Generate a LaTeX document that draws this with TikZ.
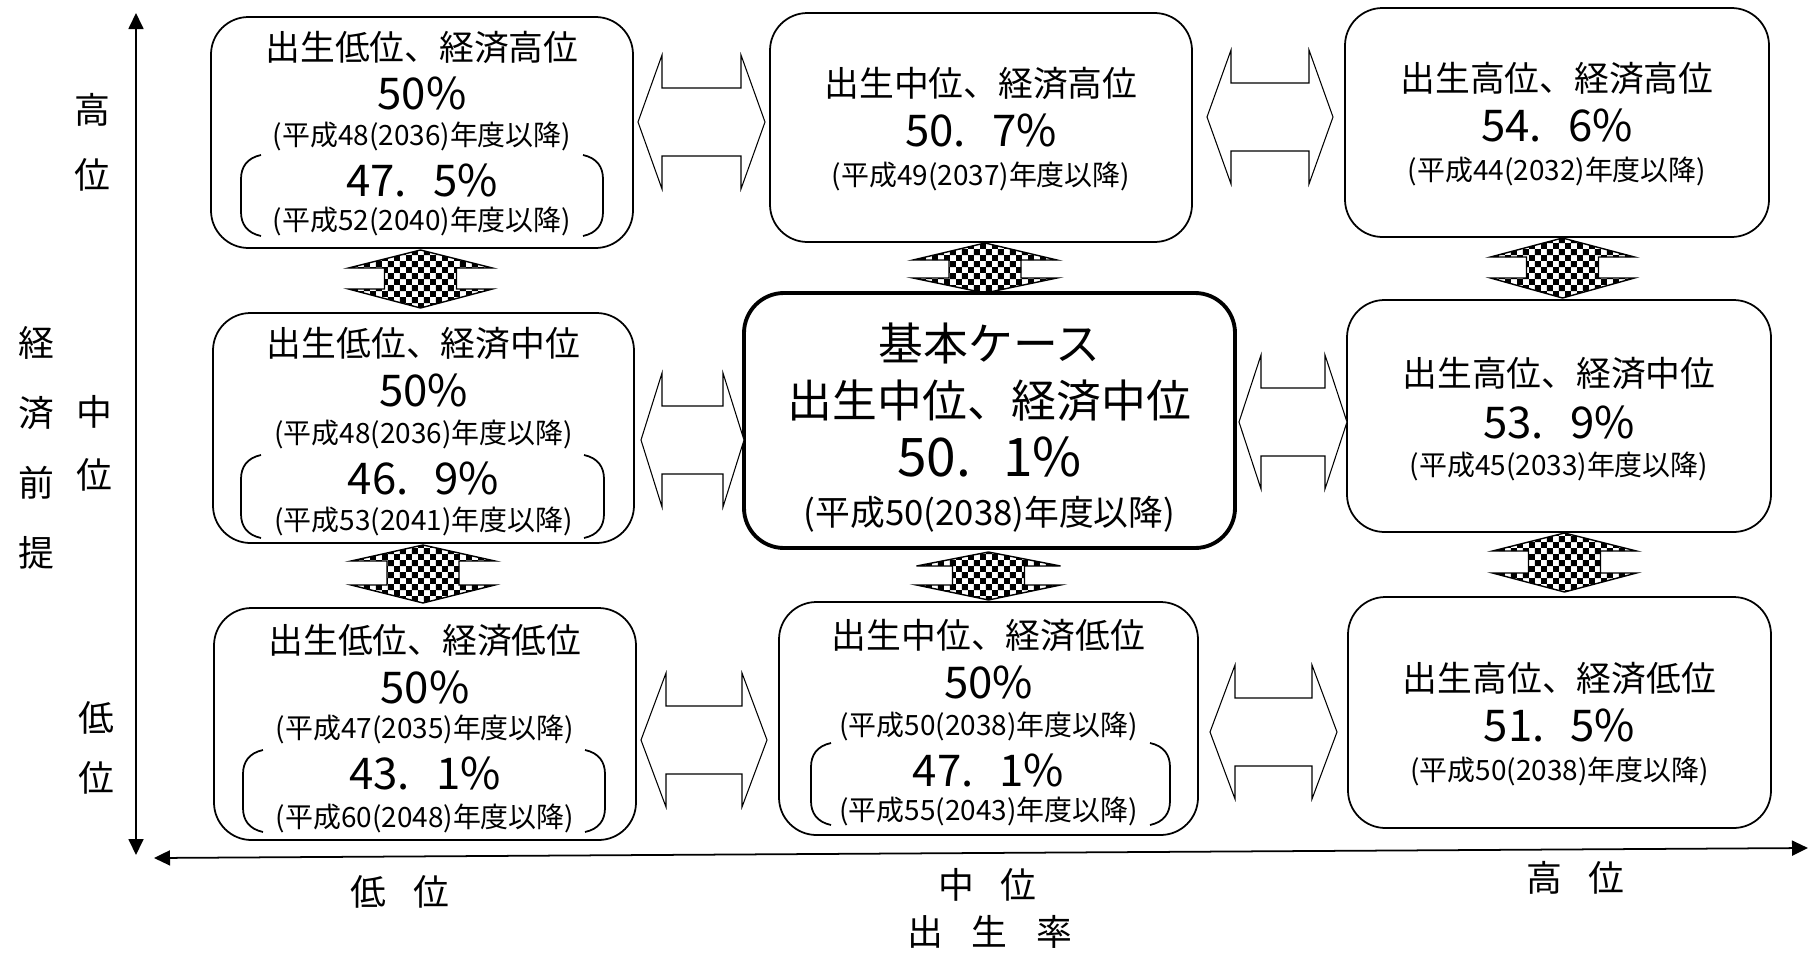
\documentclass[tikz,border=0pt]{standalone}
\usepackage{fontspec}
\newfontfamily\jp{Noto Sans CJK JP}
\usetikzlibrary{arrows.meta,patterns,fit}
\pgfdeclarepatternformonly{bigcheck}{\pgfqpoint{0pt}{0pt}}{\pgfqpoint{6.8pt}{6.8pt}}{\pgfqpoint{6.8pt}{6.8pt}}{%
  \pgfpathrectangle{\pgfqpoint{0pt}{0pt}}{\pgfqpoint{3.4pt}{3.4pt}}%
  \pgfpathrectangle{\pgfqpoint{3.4pt}{3.4pt}}{\pgfqpoint{3.4pt}{3.4pt}}%
  \pgfusepath{fill}}
\newcommand\dotgap{.\hspace{0.6em}}
\newcommand\whitearrow[4]{% left tip x, right tip x, centre y, head length
  \draw[warr] (#1,#3) -- (#1+#4,#3-67) -- (#1+#4,#3-34) -- (#2-#4,#3-34) -- (#2-#4,#3-67) -- (#2,#3)
    -- (#2-#4,#3+67) -- (#2-#4,#3+34) -- (#1+#4,#3+34) -- (#1+#4,#3+67) -- cycle;}
\newcommand\checkarrow[5]{% centre x, top tip, upper base, lower base, bottom tip
  \draw[carr] (#1,#2) -- (#1+72,#3) -- (#1+36,#3) -- (#1+36,#4) -- (#1+72,#4) -- (#1,#5)
    -- (#1-72,#4) -- (#1-36,#4) -- (#1-36,#3) -- (#1-72,#3) -- cycle;}
\newcommand\parbrk[4]{% left x, right x, top y, bottom y
  \draw[brk] (#1+20,#3) .. controls (#1+6,#3+3) and (#1,#3+12) .. (#1,#3+24) -- (#1,#4-24)
    .. controls (#1,#4-12) and (#1+6,#4-3) .. (#1+20,#4);
  \draw[brk] (#2-20,#3) .. controls (#2-6,#3+3) and (#2,#3+12) .. (#2,#3+24) -- (#2,#4-24)
    .. controls (#2,#4-12) and (#2-6,#4-3) .. (#2-20,#4);}
\begin{document}
\begin{tikzpicture}[x=0.02cm,y=-0.02cm,
  rbox/.style={draw, line width=1pt, rounded corners=0.75cm, inner sep=0pt},
  mbox/.style={draw, line width=2.2pt, rounded corners=0.8cm, inner sep=0pt},
  ttl/.style={font=\jp\fontsize{19.8pt}{22pt}\selectfont, inner sep=0pt, anchor=base},
  pct/.style={font=\jp\fontsize{24.9pt}{27pt}\selectfont, inner sep=0pt, anchor=base},
  sml/.style={font=\jp\fontsize{15.9pt}{18pt}\selectfont, inner sep=0pt, anchor=base},
  cttl/.style={font=\jp\fontsize{25.5pt}{28pt}\selectfont, inner sep=0pt, anchor=base},
  cpct/.style={font=\jp\fontsize{30.3pt}{32pt}\selectfont, inner sep=0pt, anchor=base},
  csml/.style={font=\jp\fontsize{19.8pt}{22pt}\selectfont, inner sep=0pt, anchor=base},
  axl/.style={font=\jp\fontsize{20.4pt}{22pt}\selectfont, inner sep=0pt, anchor=base},
  axis/.style={line width=1pt},
  brk/.style={line width=1pt},
  warr/.style={draw, fill=white, line width=0.6pt, line join=miter},
  carr/.style={draw, line width=0.8pt, pattern=bigcheck},
]
\fill[white] (0,0) rectangle (1809,954);
\useasboundingbox (0,0) rectangle (1809,954);

% axes
\coordinate (vt) at (136,13);
\coordinate (vb) at (136,855);
\coordinate (hl) at (154,858);
\coordinate (hr) at (1808,848);
\draw[axis, {Triangle[length=0.32cm,width=0.3cm]}-{Triangle[length=0.32cm,width=0.3cm]}] (vb) -- (vt);
\draw[axis, {Triangle[length=0.32cm,width=0.3cm]}-{Triangle[length=0.32cm,width=0.3cm]}] (hl) -- (hr);

% axis labels
\node[axl] (k1) at (36,343+13) {経};
\node[axl] (k2) at (36,413+13) {済};
\node[axl] (k3) at (36,483+13) {前};
\node[axl] (k4) at (36,553+13) {提};
\node[axl] (rh1) at (92,110+13) {高};
\node[axl] (rh2) at (92,175+13) {位};
\node[axl] (rm1) at (94,412+13) {中};
\node[axl] (rm2) at (94,475+13) {位};
\node[axl] (rl1) at (96,718+13) {低};
\node[axl] (rl2) at (96,778+13) {位};
\node[axl] (cl1) at (368,892+13) {低};
\node[axl] (cl2) at (431,892+13) {位};
\node[axl] (cm1) at (956,885+13) {中};
\node[axl] (cm2) at (1018,885+13) {位};
\node[axl] (ch1) at (1544,878+13) {高};
\node[axl] (ch2) at (1606,878+13) {位};
\node[axl] (br1) at (925,932+13) {出};
\node[axl] (br2) at (989,932+13) {生};
\node[axl] (br3) at (1054,932+13) {率};

% boxes
\node[rbox, fit={(211,17) (633,248)}] (b11) {};
\node[rbox, fit={(770,13) (1192,242)}] (b12) {};
\node[rbox, fit={(1345,8) (1769,237)}] (b13) {};
\node[rbox, fit={(213,313) (634,543)}] (b21) {};
\node[mbox, fit={(744,293) (1235,548)}] (b22) {};
\node[rbox, fit={(1347,300) (1771,532)}] (b23) {};
\node[rbox, fit={(214,608) (636,840)}] (b31) {};
\node[rbox, fit={(779,602) (1198,835)}] (b32) {};
\node[rbox, fit={(1348,597) (1771,828)}] (b33) {};

% texts B11
\node[ttl] (b11a) at (422,47+13) {出生低位、経済高位};
\node[pct] (b11b) at (422,93+16) {50\%};
\node[sml] (b11c) at (422,135+10) {(平成48(2036)年度以降)};
\node[pct] (b11d) at (422,180+16) {47\dotgap 5\%};
\node[sml] (b11e) at (422,220+10) {(平成52(2040)年度以降)};
\parbrk{241}{603}{155}{236}
% B12
\node[ttl] (b12a) at (981,83+13) {出生中位、経済高位};
\node[pct] (b12b) at (981,130+16) {50\dotgap 7\%};
\node[sml] (b12c) at (981,175+10) {(平成49(2037)年度以降)};
% B13
\node[ttl] (b13a) at (1557,78+13) {出生高位、経済高位};
\node[pct] (b13b) at (1557,125+16) {54\dotgap 6\%};
\node[sml] (b13c) at (1557,170+10) {(平成44(2032)年度以降)};
% B21
\node[ttl] (b21a) at (423.5,343+13) {出生低位、経済中位};
\node[pct] (b21b) at (423.5,390+16) {50\%};
\node[sml] (b21c) at (423.5,433+10) {(平成48(2036)年度以降)};
\node[pct] (b21d) at (423.5,478+16) {46\dotgap 9\%};
\node[sml] (b21e) at (423.5,520+10) {(平成53(2041)年度以降)};
\parbrk{241}{604}{455}{538}
% B22
\node[cttl] (b22a) at (989.5,343+17) {基本ケース};
\node[cttl] (b22b) at (989.5,400+17) {出生中位、経済中位};
\node[cpct] (b22c) at (989.5,457+19) {50\dotgap 1\%};
\node[csml] (b22d) at (989.5,512+13) {(平成50(2038)年度以降)};
% B23
\node[ttl] (b23a) at (1559,373+13) {出生高位、経済中位};
\node[pct] (b23b) at (1559,422+16) {53\dotgap 9\%};
\node[sml] (b23c) at (1559,465+10) {(平成45(2033)年度以降)};
% B31
\node[ttl] (b31a) at (425,640+13) {出生低位、経済低位};
\node[pct] (b31b) at (425,687+16) {50\%};
\node[sml] (b31c) at (425,728+10) {(平成47(2035)年度以降)};
\node[pct] (b31d) at (425,773+16) {43\dotgap 1\%};
\node[sml] (b31e) at (425,817+10) {(平成60(2048)年度以降)};
\parbrk{243}{605}{750}{832}
% B32
\node[ttl] (b32a) at (988.5,635+13) {出生中位、経済低位};
\node[pct] (b32b) at (988.5,682+16) {50\%};
\node[sml] (b32c) at (988.5,725+10) {(平成50(2038)年度以降)};
\node[pct] (b32d) at (988.5,770+16) {47\dotgap 1\%};
\node[sml] (b32e) at (988.5,810+10) {(平成55(2043)年度以降)};
\parbrk{811}{1170}{743}{825}
% B33
\node[ttl] (b33a) at (1559.5,678+13) {出生高位、経済低位};
\node[pct] (b33b) at (1559.5,725+16) {51\dotgap 5\%};
\node[sml] (b33c) at (1559.5,770+10) {(平成50(2038)年度以降)};

% white double arrows
\whitearrow{638}{765}{122}{24}
\whitearrow{1207}{1333}{117}{24}
\whitearrow{641}{744}{440}{21}
\whitearrow{1239}{1347}{422}{22}
\whitearrow{641}{767}{740}{25}
\whitearrow{1210}{1337}{732}{25}

% checkered double arrows
\checkarrow{420.5}{250}{268}{289}{308}
\checkarrow{985}{243}{260}{278}{293}
\checkarrow{1562.5}{238}{257}{278}{298}
\checkarrow{423}{545}{561}{585}{603}
\checkarrow{988.5}{552}{566}{585}{600}
\checkarrow{1564.5}{533}{551}{573}{592}
\end{tikzpicture}
\end{document}
